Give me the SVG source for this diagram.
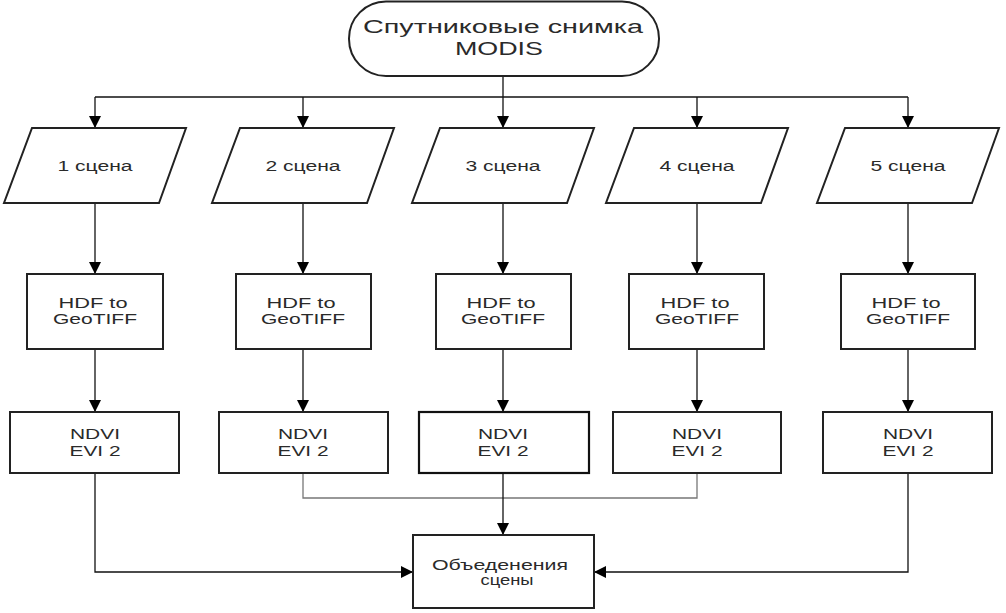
<svg xmlns="http://www.w3.org/2000/svg" width="1006" height="613" viewBox="0 0 1006 613">
<style>
  .node { fill: #ffffff; stroke: #222; stroke-width: 2; }
  .conn { fill: none; stroke: #111; stroke-width: 1.3; }
  .conn-g { fill: none; stroke: #777; stroke-width: 1.3; }
  text { font-family: "Liberation Sans", Arial, sans-serif; fill: #2a2a2a; text-anchor: middle; }
  .t15 { font-size: 15.5px; }
  .t18 { font-size: 18px; }
</style>
<defs>
  <marker id="arr" markerUnits="userSpaceOnUse" markerWidth="12" markerHeight="12" viewBox="0 0 12 12" refX="12" refY="6" orient="auto">
    <path d="M0,0 L12,6 L0,12 Z" fill="#000"/>
  </marker>
</defs>
<rect width="1006" height="613" fill="#ffffff"/>

<g id="connectors">
  <line class="conn" x1="503" y1="76" x2="503" y2="97"/>
  <line class="conn" x1="95" y1="97" x2="908" y2="97"/>
  <line class="conn" x1="95" y1="97" x2="95" y2="128" marker-end="url(#arr)"/>
  <line class="conn" x1="303" y1="97" x2="303" y2="128" marker-end="url(#arr)"/>
  <line class="conn" x1="503" y1="97" x2="503" y2="128" marker-end="url(#arr)"/>
  <line class="conn" x1="697" y1="97" x2="697" y2="128" marker-end="url(#arr)"/>
  <line class="conn" x1="908" y1="97" x2="908" y2="128" marker-end="url(#arr)"/>

  <line class="conn" x1="95" y1="203" x2="95" y2="274" marker-end="url(#arr)"/>
  <line class="conn" x1="303" y1="203" x2="303" y2="274" marker-end="url(#arr)"/>
  <line class="conn" x1="503" y1="203" x2="503" y2="274" marker-end="url(#arr)"/>
  <line class="conn" x1="697" y1="203" x2="697" y2="274" marker-end="url(#arr)"/>
  <line class="conn" x1="908" y1="203" x2="908" y2="274" marker-end="url(#arr)"/>

  <line class="conn" x1="95" y1="349" x2="95" y2="412" marker-end="url(#arr)"/>
  <line class="conn" x1="303" y1="349" x2="303" y2="412" marker-end="url(#arr)"/>
  <line class="conn" x1="503" y1="349" x2="503" y2="412" marker-end="url(#arr)"/>
  <line class="conn" x1="697" y1="349" x2="697" y2="412" marker-end="url(#arr)"/>
  <line class="conn" x1="908" y1="349" x2="908" y2="412" marker-end="url(#arr)"/>

  <polyline class="conn-g" points="303,473 303,498 697,498 697,473"/>
  <line class="conn" x1="503" y1="473" x2="503" y2="535" marker-end="url(#arr)"/>
  <polyline class="conn" points="95,473 95,572 413,572" marker-end="url(#arr)"/>
  <polyline class="conn" points="908,473 908,572 594,572" marker-end="url(#arr)"/>
</g>

<g id="start">
  <rect class="node" x="349" y="1.5" width="310" height="74.5" rx="37" ry="37"/>
  <text class="t18" x="503" y="33" textLength="280" lengthAdjust="spacingAndGlyphs">Спутниковые снимка</text>
  <text class="t18" x="499" y="55" textLength="88" lengthAdjust="spacingAndGlyphs">MODIS</text>
</g>

<g id="scene1">
  <polygon class="node" points="32,128 186,128 159,203 4,203"/>
  <text class="t15" x="95" y="171" textLength="75" lengthAdjust="spacingAndGlyphs">1 сцена</text>
</g>
<g id="scene2">
  <polygon class="node" points="240,128 394,128 367,203 212,203"/>
  <text class="t15" x="303" y="171" textLength="75" lengthAdjust="spacingAndGlyphs">2 сцена</text>
</g>
<g id="scene3">
  <polygon class="node" points="440,128 594,128 567,203 412,203"/>
  <text class="t15" x="503" y="171" textLength="75" lengthAdjust="spacingAndGlyphs">3 сцена</text>
</g>
<g id="scene4">
  <polygon class="node" points="634,128 788,128 761,203 606,203"/>
  <text class="t15" x="697" y="171" textLength="75" lengthAdjust="spacingAndGlyphs">4 сцена</text>
</g>
<g id="scene5">
  <polygon class="node" points="845,128 999,128 972,203 817,203"/>
  <text class="t15" x="908" y="171" textLength="75" lengthAdjust="spacingAndGlyphs">5 сцена</text>
</g>

<g id="hdf1">
  <rect class="node" x="27" y="274" width="136" height="75"/>
  <text class="t15" x="93" y="308" textLength="69" lengthAdjust="spacingAndGlyphs">HDF to</text>
  <text class="t15" x="95" y="324" textLength="84" lengthAdjust="spacingAndGlyphs">GeoTIFF</text>
</g>
<g id="hdf2">
  <rect class="node" x="236" y="274" width="135" height="75"/>
  <text class="t15" x="301" y="308" textLength="69" lengthAdjust="spacingAndGlyphs">HDF to</text>
  <text class="t15" x="303" y="324" textLength="84" lengthAdjust="spacingAndGlyphs">GeoTIFF</text>
</g>
<g id="hdf3">
  <rect class="node" x="436" y="274" width="135" height="75"/>
  <text class="t15" x="501" y="308" textLength="69" lengthAdjust="spacingAndGlyphs">HDF to</text>
  <text class="t15" x="503" y="324" textLength="84" lengthAdjust="spacingAndGlyphs">GeoTIFF</text>
</g>
<g id="hdf4">
  <rect class="node" x="629" y="274" width="135" height="75"/>
  <text class="t15" x="695" y="308" textLength="69" lengthAdjust="spacingAndGlyphs">HDF to</text>
  <text class="t15" x="697" y="324" textLength="84" lengthAdjust="spacingAndGlyphs">GeoTIFF</text>
</g>
<g id="hdf5">
  <rect class="node" x="841" y="274" width="134" height="75"/>
  <text class="t15" x="906" y="308" textLength="69" lengthAdjust="spacingAndGlyphs">HDF to</text>
  <text class="t15" x="908" y="324" textLength="84" lengthAdjust="spacingAndGlyphs">GeoTIFF</text>
</g>

<g id="ndvi1">
  <rect class="node" x="10" y="412" width="169" height="61"/>
  <text class="t15" x="95" y="439" textLength="50" lengthAdjust="spacingAndGlyphs">NDVI</text>
  <text class="t15" x="95" y="456" textLength="51" lengthAdjust="spacingAndGlyphs">EVI 2</text>
</g>
<g id="ndvi2">
  <rect class="node" x="219" y="412" width="169" height="61"/>
  <text class="t15" x="303" y="439" textLength="50" lengthAdjust="spacingAndGlyphs">NDVI</text>
  <text class="t15" x="303" y="456" textLength="51" lengthAdjust="spacingAndGlyphs">EVI 2</text>
</g>
<g id="ndvi3">
  <rect class="node" x="419" y="412" width="170" height="61" style="stroke:#111;stroke-width:2.2"/>
  <text class="t15" x="503" y="439" textLength="50" lengthAdjust="spacingAndGlyphs">NDVI</text>
  <text class="t15" x="503" y="456" textLength="51" lengthAdjust="spacingAndGlyphs">EVI 2</text>
</g>
<g id="ndvi4">
  <rect class="node" x="613" y="412" width="168" height="61"/>
  <text class="t15" x="697" y="439" textLength="50" lengthAdjust="spacingAndGlyphs">NDVI</text>
  <text class="t15" x="697" y="456" textLength="51" lengthAdjust="spacingAndGlyphs">EVI 2</text>
</g>
<g id="ndvi5">
  <rect class="node" x="823" y="412" width="169" height="61"/>
  <text class="t15" x="908" y="439" textLength="50" lengthAdjust="spacingAndGlyphs">NDVI</text>
  <text class="t15" x="908" y="456" textLength="51" lengthAdjust="spacingAndGlyphs">EVI 2</text>
</g>

<g id="merge">
  <rect class="node" x="413" y="535" width="181" height="73"/>
  <text class="t15" x="500" y="570" textLength="136" lengthAdjust="spacingAndGlyphs">Объеденения</text>
  <text class="t15" x="507" y="585" textLength="53" lengthAdjust="spacingAndGlyphs">сцены</text>
</g>
</svg>
